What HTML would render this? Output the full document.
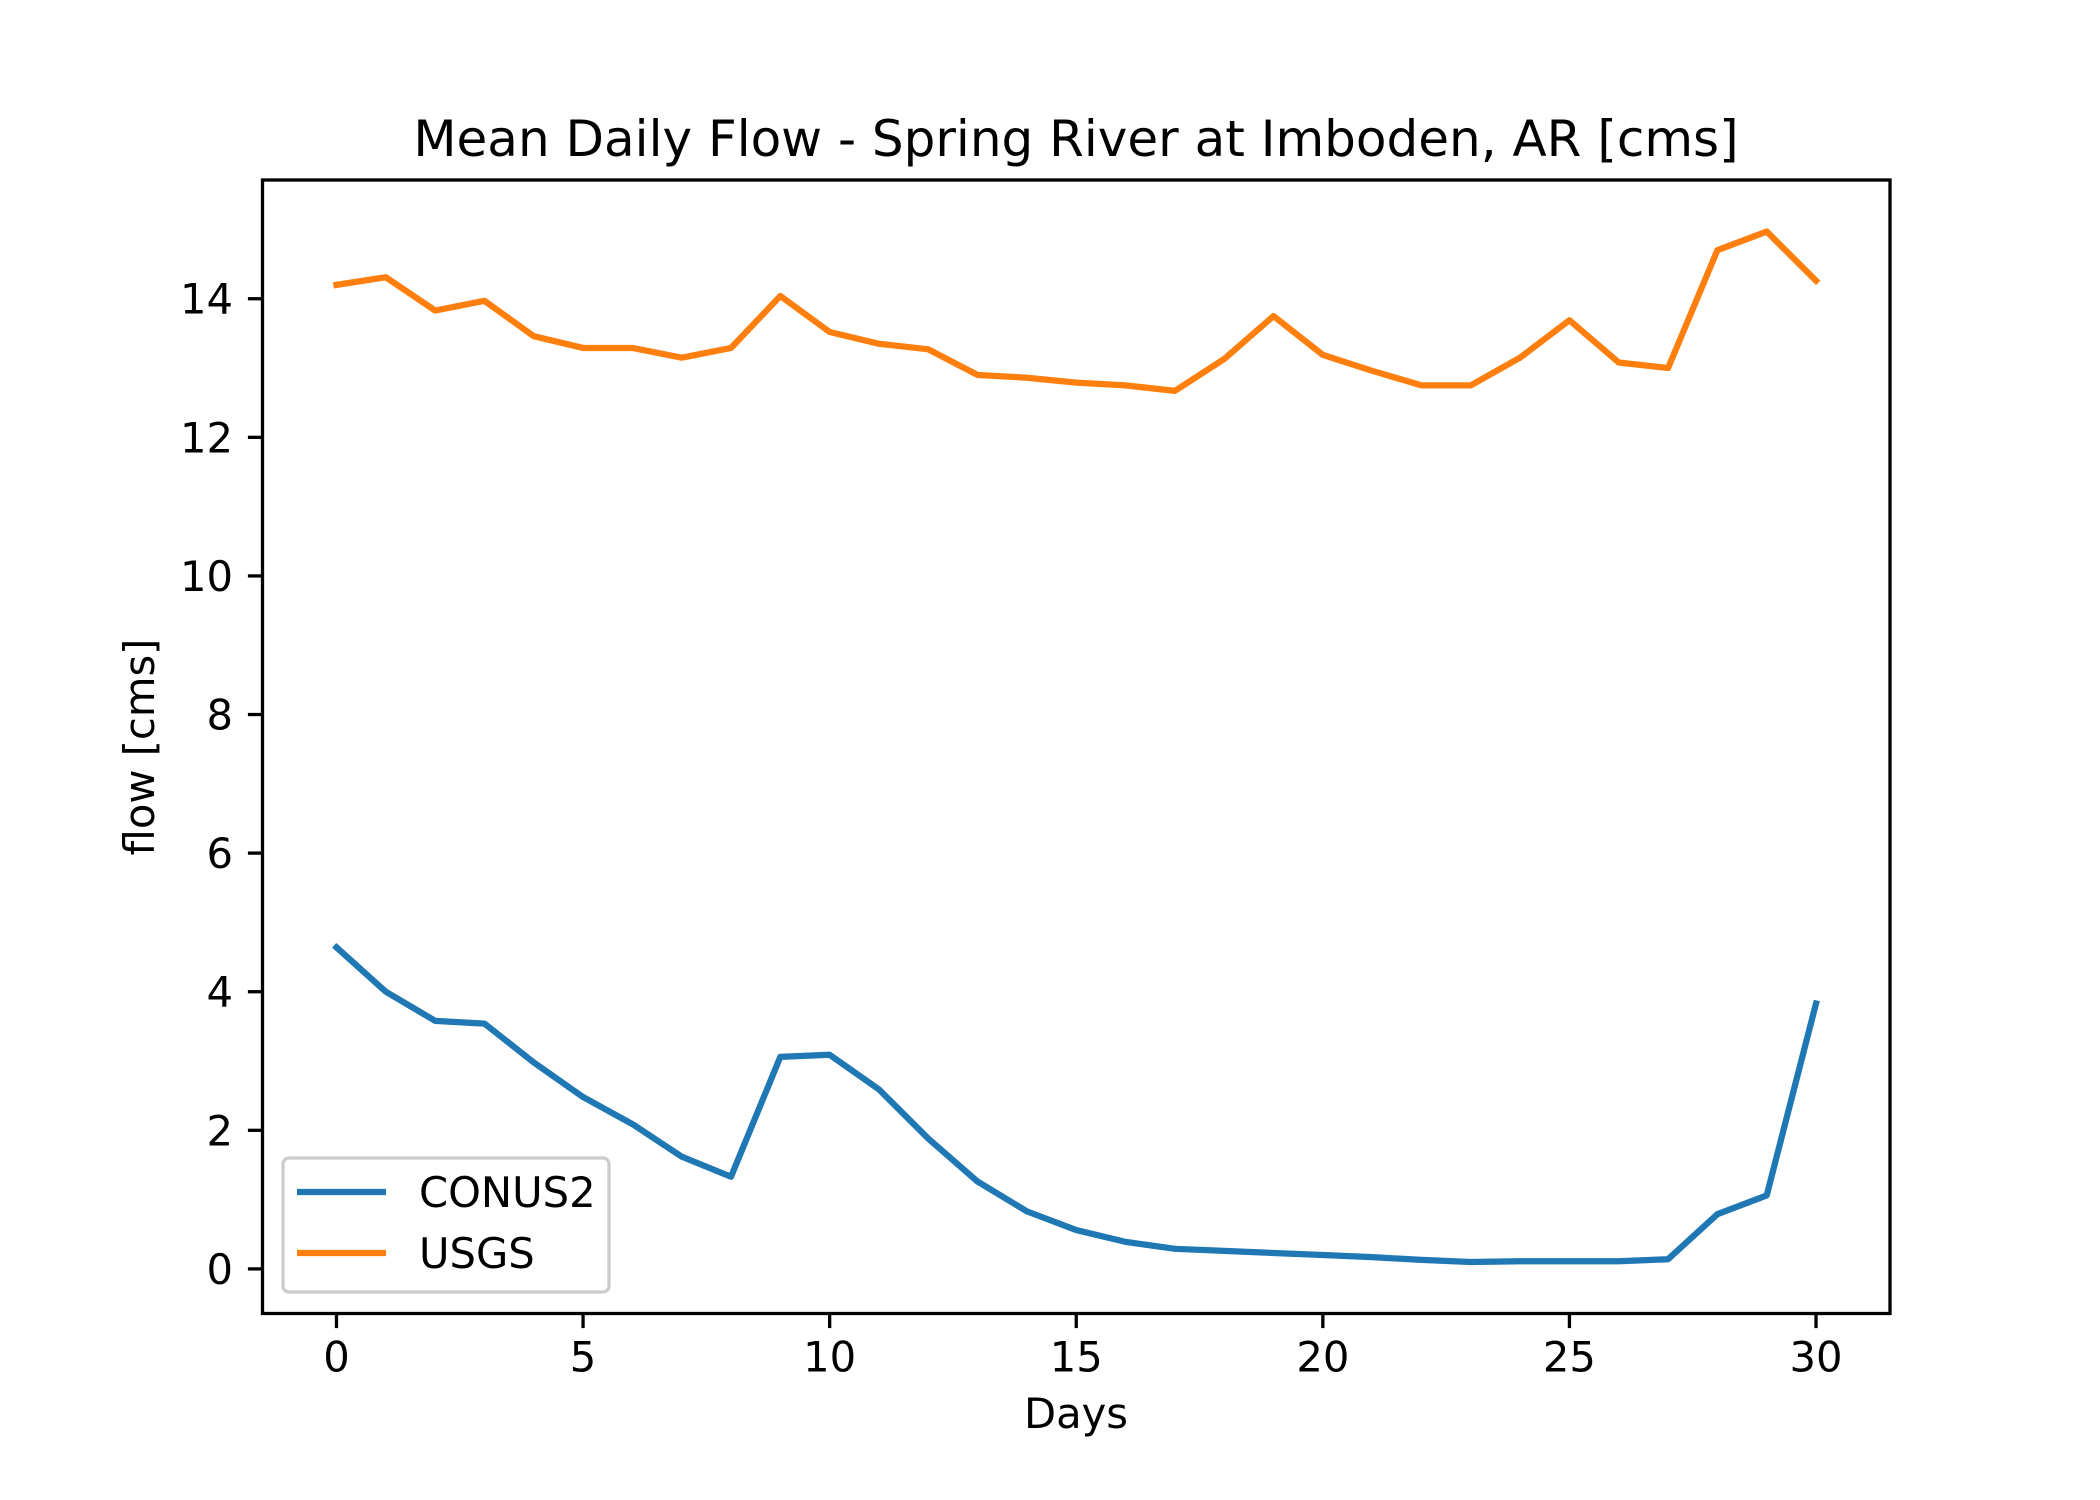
<!DOCTYPE html>
<html><head><meta charset="utf-8"><style>
html,body{margin:0;padding:0;background:#fff;}
svg{display:block;font-family:"DejaVu Sans","Liberation Sans",sans-serif;}
</style></head><body>
<svg id="chart" width="2100" height="1500" viewBox="0 0 2100 1500" xmlns="http://www.w3.org/2000/svg">
<rect width="2100" height="1500" fill="#fff"/>
<text x="1076" y="156" font-size="50" text-anchor="middle">Mean Daily Flow - Spring River at Imboden, AR [cms]</text>
<g id="plot"></g>
<text x="1076" y="1428" font-size="41.7" text-anchor="middle">Days</text>
<text x="0" y="0" font-size="41.7" text-anchor="middle" transform="translate(154,747) rotate(-90)">flow [cms]</text>
</svg>
<script>
const days = [0,1,2,3,4,5,6,7,8,9,10,11,12,13,14,15,16,17,18,19,20,21,22,23,24,25,26,27,28,29,30];
const usgs = [14.2,14.31,13.83,13.97,13.46,13.29,13.29,13.15,13.29,14.04,13.52,13.35,13.27,12.9,12.86,12.79,12.75,12.67,13.13,13.75,13.19,12.96,12.75,12.75,13.15,13.69,13.08,13.0,14.7,14.97,14.26];
const conus2 = [4.64,4.0,3.58,3.54,2.98,2.48,2.09,1.62,1.33,3.06,3.09,2.59,1.88,1.26,0.83,0.56,0.39,0.29,0.26,0.23,0.2,0.17,0.13,0.1,0.11,0.11,0.11,0.14,0.79,1.06,3.83];
const xTicks = [0,5,10,15,20,25,30];
const yTicks = [0,2,4,6,8,10,12,14];
const seriesNames = ["CONUS2","USGS"];

const NS="http://www.w3.org/2000/svg";
const L=262.5,R=1890,T=180,B=1313.5;
const xmin=-1.5,xmax=31.5;
const all=usgs.concat(conus2);
const dmin=Math.min(...all),dmax=Math.max(...all),pad=(dmax-dmin)*0.05;
const ymin=dmin-pad,ymax=dmax+pad;
const xs=v=>L+(v-xmin)/(xmax-xmin)*(R-L);
const ys=v=>B-(v-ymin)/(ymax-ymin)*(B-T);
const g=document.getElementById('plot');
function mk(tag,attrs){const e=document.createElementNS(NS,tag);for(const k in attrs)e.setAttribute(k,attrs[k]);g.appendChild(e);return e;}

function line(vals,color,name){
  const p=mk('polyline',{points:vals.map((v,i)=>xs(days[i])+','+ys(v)).join(' '),fill:'none',stroke:color,'stroke-width':6.25,'stroke-linejoin':'round','stroke-linecap':'square'});
  
  
}
line(conus2,'#1f77b4','conus2-line');
line(usgs,'#ff7f0e','usgs-line');

const frame=mk('rect',{x:L,y:T,width:R-L,height:B-T,fill:'none',stroke:'#000','stroke-width':3.3});



xTicks.forEach(t=>{
  const x=xs(t);
  const tk=mk('line',{x1:x,x2:x,y1:B,y2:B+14.6,stroke:'#000','stroke-width':3.3});
  
  
  const tx=mk('text',{x:x,y:B+58,'font-size':41.7,'text-anchor':'middle'});
  tx.textContent=t;
  
  
});
yTicks.forEach(t=>{
  const y=ys(t);
  const tk=mk('line',{x1:L-14.6,x2:L,y1:y,y2:y,stroke:'#000','stroke-width':3.3});
  
  
  const tx=mk('text',{x:233,y:y+15,'font-size':41.7,'text-anchor':'end'});
  tx.textContent=t;
  
  
});

const lg=mk('rect',{x:283,y:1158,width:326,height:134,rx:6,fill:'#fff','fill-opacity':0.8,stroke:'#cccccc','stroke-width':3.3});


const colors=['#1f77b4','#ff7f0e'];
seriesNames.forEach((n,i)=>{
  const y=1192+i*61;
  const ln=mk('line',{x1:297,x2:386,y1:y,y2:y,stroke:colors[i],'stroke-width':6.25});
  
  
  const tx=mk('text',{x:419,y:y+15,'font-size':41.7});
  tx.textContent=n;
  
  
});
</script>
</body></html>
